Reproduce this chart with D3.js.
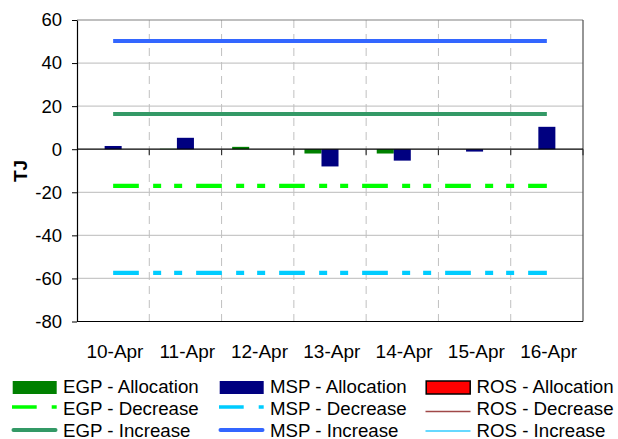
<!DOCTYPE html>
<html><head><meta charset="utf-8">
<script src="https://cdn.jsdelivr.net/npm/d3@7"></script>
<style>body{margin:0;background:#fff;} svg{display:block;font-family:"Liberation Sans",Arial,sans-serif;}</style>
</head><body>
<svg id="c" width="618" height="439"></svg>
<script>
const categories = ["10-Apr","11-Apr","12-Apr","13-Apr","14-Apr","15-Apr","16-Apr"];
const egpAllocation = [0, 0.2, 1.1, -2, -2, 0, 0];
const mspAllocation = [1.5, 5.3, 0, -8, -5.3, -1.1, 10.4];
const rosAllocation = [0, 0, 0, 0, 0, 0, 0];
const egpDecrease = [-17, -17, -17, -17, -17, -17, -17];
const mspDecrease = [-57.4, -57.4, -57.4, -57.4, -57.4, -57.4, -57.4];
const egpIncrease = [16.3, 16.3, 16.3, 16.3, 16.3, 16.3, 16.3];
const mspIncrease = [50.2, 50.2, 50.2, 50.2, 50.2, 50.2, 50.2];
const yTicks = [60, 40, 20, 0, -20, -40, -60, -80];

const svg = d3.select("#c");
const L = 77, R = 583, T = 20, B = 321.5;
const x = d3.scaleBand().domain(categories).range([L, R]).padding(0);
const y = d3.scaleLinear().domain([-80, 60]).range([B, T]);
const barSeries = [
  {name:"EGP - Allocation", vals: egpAllocation, color:"#008000"},
  {name:"MSP - Allocation", vals: mspAllocation, color:"#000080"},
  {name:"ROS - Allocation", vals: rosAllocation, color:"#FF0000"}
];
const inner = d3.scaleBand().domain([0,1,2]).range([10.6, x.bandwidth()-10.6]).padding(0);

// horizontal gridlines
svg.append("g").selectAll("line").data(yTicks.filter(d => d !== 0 && d !== 60 && d !== -80)).join("line")
  .attr("x1", L).attr("x2", R).attr("y1", d => y(d)).attr("y2", d => y(d))
  .attr("stroke", "#c8c8c8").attr("stroke-width", 1.3);
// vertical dashed gridlines
svg.append("g").selectAll("line").data(categories.slice(1)).join("line")
  .attr("x1", d => x(d)).attr("x2", d => x(d)).attr("y1", T).attr("y2", B)
  .attr("stroke", "#c0c0c0").attr("stroke-width", 1).attr("stroke-dasharray", "8,6");

// border
svg.append("line").attr("x1", L).attr("x2", R).attr("y1", T).attr("y2", T).attr("stroke", "#808080").attr("stroke-width", 1.2);
svg.append("line").attr("x1", R).attr("x2", R).attr("y1", T).attr("y2", B).attr("stroke", "#505050").attr("stroke-width", 1.2);
svg.append("line").attr("x1", L).attr("x2", R).attr("y1", B).attr("y2", B).attr("stroke", "#000").attr("stroke-width", 1);

// bars
barSeries.forEach((s, i) => {
  svg.append("g").selectAll("rect").data(categories).join("rect")
    .attr("x", d => x(d) + inner(i))
    .attr("width", inner.bandwidth())
    .attr("y", (d, j) => y(Math.max(0, s.vals[j])))
    .attr("height", (d, j) => Math.abs(y(s.vals[j]) - y(0)))
    .attr("fill", s.color);
});

// lines
const cx = d => x(d) + x.bandwidth()/2;
const lineSeries = [
  {vals: mspIncrease, color:"#3366FF", w:4, dash:null},
  {vals: egpIncrease, color:"#339966", w:4, dash:null},
  {vals: egpDecrease, color:"#00FF00", w:4.3, dash:"25.7,14.3,8,13,8,14"},
  {vals: mspDecrease, color:"#00CCFF", w:4.3, dash:"25.7,14.3,8,13,8,14"}
];
lineSeries.forEach(s => {
  const line = d3.line().x((d, j) => cx(categories[j])).y(d => y(d));
  svg.append("path").datum(s.vals).attr("d", line).attr("fill", "none")
    .attr("stroke", s.color).attr("stroke-width", s.w)
    .attr("stroke-dasharray", s.dash);
});

// zero axis
svg.append("line").attr("x1", L).attr("x2", R).attr("y1", y(0)).attr("y2", y(0)).attr("stroke", "#000").attr("stroke-width", 1.2);
svg.append("g").selectAll("line").data(categories.slice(1).map(d => x(d)).concat([R])).join("line")
  .attr("x1", d => d).attr("x2", d => d).attr("y1", y(0)).attr("y2", y(0) + 6)
  .attr("stroke", "#333").attr("stroke-width", 1.2);

// y axis
const yAxis = d3.axisLeft(y).tickValues(yTicks).tickSize(5).tickSizeOuter(0)
  .tickFormat(d => String(d));
const gy = svg.append("g").attr("transform", `translate(${L},0)`).call(yAxis);
gy.select(".domain").attr("stroke", "#000").attr("stroke-width", 1.2);
gy.selectAll(".tick line").attr("stroke", "#000");
gy.selectAll(".tick text").attr("font-size", 18.5).attr("fill", "#000").attr("x", -15)
  .attr("font-family", "Liberation Sans, Arial, sans-serif");

// x labels
svg.append("g").selectAll("text").data(categories).join("text")
  .attr("x", d => cx(d) + 1.8).attr("y", 358).attr("text-anchor", "middle")
  .attr("font-size", 19).attr("fill", "#000").text(d => d);

// y title
svg.append("text").attr("transform", "translate(26.5,171) rotate(-90)")
  .attr("text-anchor", "middle").attr("font-size", 19).attr("font-weight", "bold").text("TJ");

// legend
const legendItems = [
  {name:"EGP - Allocation", type:"rect", color:"#008000", col:0, row:0},
  {name:"MSP - Allocation", type:"rect", color:"#000080", col:1, row:0},
  {name:"ROS - Allocation", type:"rect", color:"#FF0000", stroke:"#000", col:2, row:0},
  {name:"EGP - Decrease", type:"dash", color:"#00FF00", col:0, row:1},
  {name:"MSP - Decrease", type:"dash", color:"#00CCFF", col:1, row:1},
  {name:"ROS - Decrease", type:"thin", color:"#A04848", col:2, row:1},
  {name:"EGP - Increase", type:"line", color:"#339966", col:0, row:2},
  {name:"MSP - Increase", type:"line", color:"#3366FF", col:1, row:2},
  {name:"ROS - Increase", type:"thin", color:"#33CCFF", col:2, row:2}
];
const colX = [12, 219, 425.5], rowY = [387.5, 409.5, 431];
legendItems.forEach(it => {
  const x0 = colX[it.col], yy = rowY[it.row];
  const g = svg.append("g");
  if (it.type === "rect") {
    g.append("rect").attr("x", x0 + 0.7).attr("y", yy - 6.5).attr("width", 44).attr("height", 13)
      .attr("fill", it.color).attr("stroke", it.stroke || "none").attr("stroke-width", it.stroke ? 1.5 : 0);
  } else if (it.type === "dash") {
    g.append("line").attr("x1", x0).attr("x2", x0 + 45).attr("y1", yy - 2.5).attr("y2", yy - 2.5)
      .attr("stroke", it.color).attr("stroke-width", 3.5).attr("stroke-dasharray", "24.7,15,5");
  } else if (it.type === "line") {
    g.append("line").attr("x1", x0 + 1.5).attr("x2", x0 + 43.5).attr("y1", yy - 1).attr("y2", yy - 1)
      .attr("stroke", it.color).attr("stroke-width", 4).attr("stroke-linecap", "round");
  } else {
    g.append("line").attr("x1", x0).attr("x2", x0 + 45).attr("y1", yy + (it.row === 1 ? 2 : 0)).attr("y2", yy + (it.row === 1 ? 2 : 0))
      .attr("stroke", it.color).attr("stroke-width", 1.3);
  }
  g.append("text").attr("x", x0 + 51).attr("y", yy + 5.5).attr("font-size", 18.7).attr("fill", "#000").text(it.name);
});
</script>
</body></html>
